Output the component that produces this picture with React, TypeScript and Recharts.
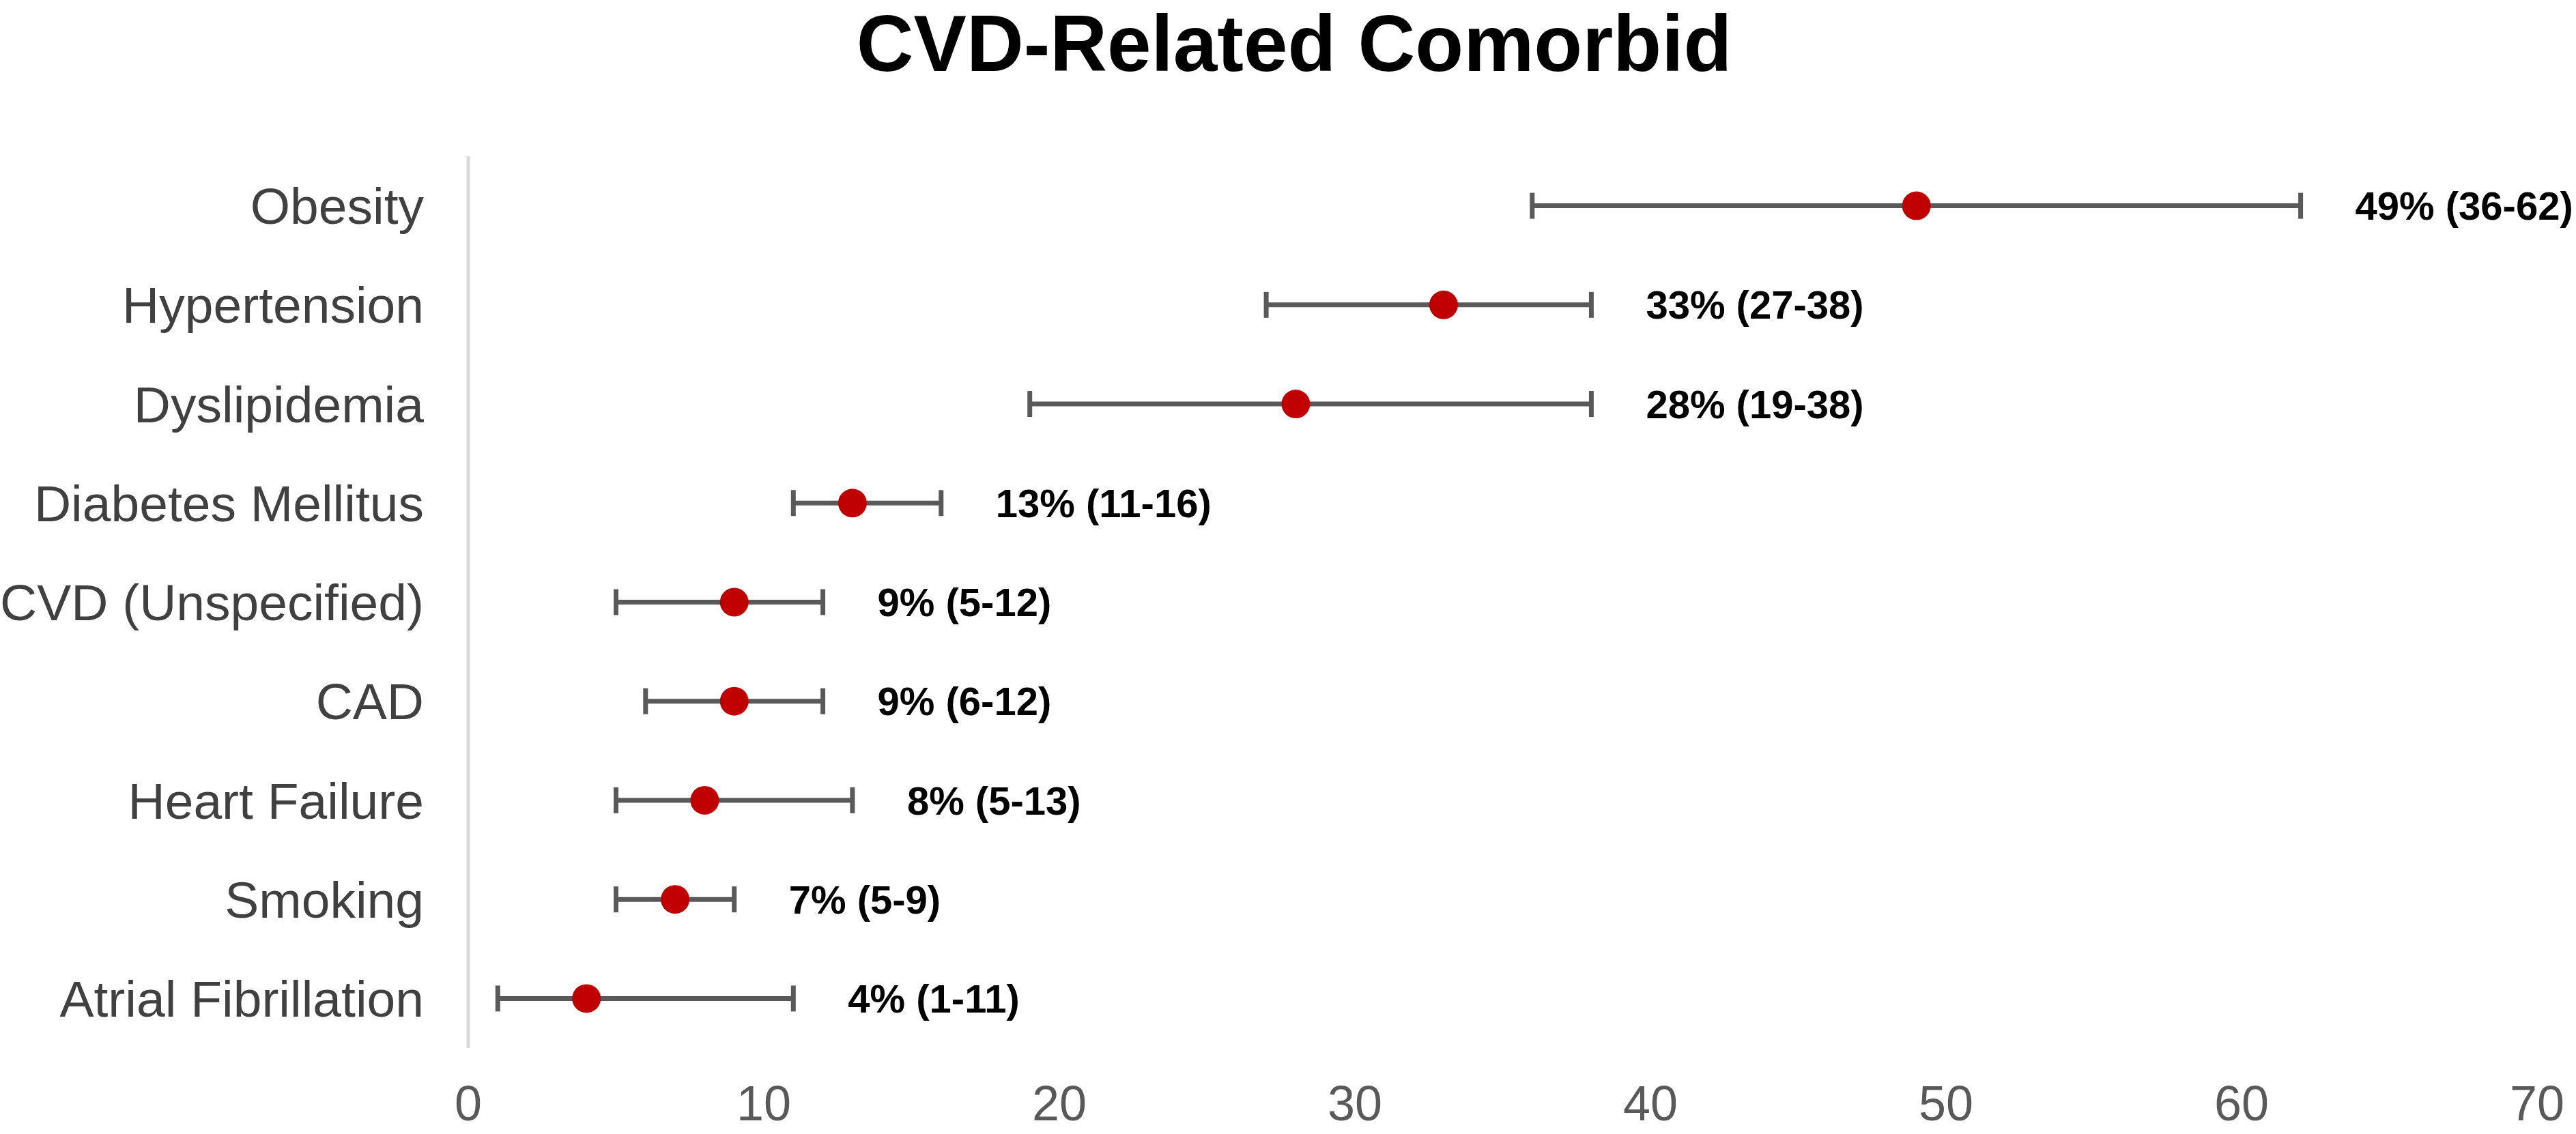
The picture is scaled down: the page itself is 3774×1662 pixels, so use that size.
import React from 'react';
import { ComposedChart, Line, XAxis, YAxis, ErrorBar, LabelList } from 'recharts';

const categories = [
  'Obesity',
  'Hypertension',
  'Dyslipidemia',
  'Diabetes Mellitus',
  'CVD (Unspecified)',
  'CAD',
  'Heart Failure',
  'Smoking',
  'Atrial Fibrillation',
];
const estimates = [49, 33, 28, 13, 9, 9, 8, 7, 4];
const lowerCI = [36, 27, 19, 11, 5, 6, 5, 5, 1];
const upperCI = [62, 38, 38, 16, 12, 12, 13, 9, 11];
const xTicks = [0, 10, 20, 30, 40, 50, 60, 70];

const data = categories.map((name, i) => ({
  name,
  value: estimates[i],
  upper: upperCI[i],
  err: [estimates[i] - lowerCI[i], upperCI[i] - estimates[i]],
  label: `${estimates[i]}% (${lowerCI[i]}-${upperCI[i]})`,
}));

export default function App() {
  return (
    <div
      style={{
        position: 'absolute',
        top: 0,
        left: 0,
        width: 3774,
        height: 1662,
        background: '#fff',
        fontFamily: '"Liberation Sans", Arial, sans-serif',
      }}
    >
      <div
        style={{
          position: 'absolute',
          top: 6,
          left: 9,
          width: 3774,
          textAlign: 'center',
          fontSize: 116,
          lineHeight: '116px',
          fontWeight: 700,
          color: '#000',
        }}
      >
        CVD-Related Comorbid
      </div>
      <ComposedChart
        layout="vertical"
        width={3774}
        height={1662}
        data={data}
        margin={{ top: 229, right: 57, bottom: 0, left: 0 }}
      >
        <XAxis
          type="number"
          domain={[0, 70]}
          ticks={xTicks}
          axisLine={false}
          tickLine={false}
          tickSize={0}
          tickMargin={55}
          height={126}
          tick={{ fill: '#595959', fontSize: 72 }}
        />
        <YAxis
          type="category"
          dataKey="name"
          scale="band"
          width={686}
          axisLine={{ stroke: '#d9d9d9', strokeWidth: 5 }}
          tickLine={false}
          tickSize={0}
          tickMargin={65}
          tick={{ fill: '#404040', fontSize: 75 }}
        />
        <Line
          dataKey="value"
          stroke="none"
          isAnimationActive={false}
          activeDot={false}
          dot={{ r: 21, fill: '#C00000', stroke: 'none' }}
        >
          <ErrorBar dataKey="err" direction="x" width={19} stroke="#595959" strokeWidth={7} />
        </Line>
        <Line
          dataKey="upper"
          stroke="none"
          isAnimationActive={false}
          activeDot={false}
          dot={false}
        >
          <LabelList
            dataKey="label"
            position="right"
            offset={80}
            fill="#000"
            fontSize={58}
            fontWeight={700}
          />
        </Line>
      </ComposedChart>
    </div>
  );
}
